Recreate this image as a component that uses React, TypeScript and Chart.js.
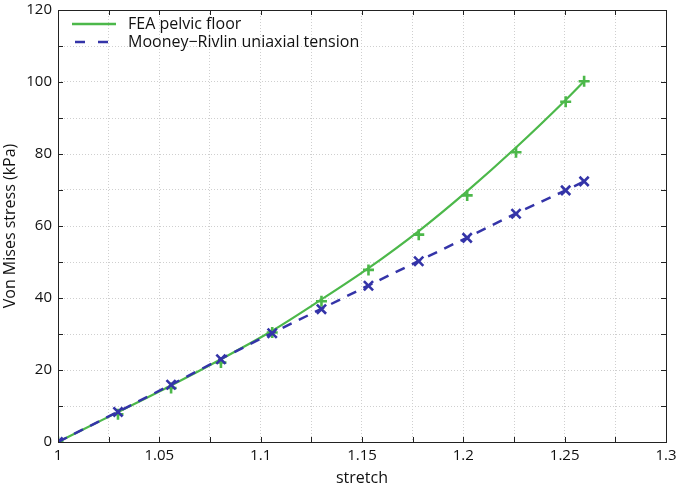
import React, { useEffect, useRef } from 'react';
import { Chart, registerables } from 'chart.js';

Chart.register(...registerables);

// stretch values of the sample points
const stretch = [1.0, 1.0296, 1.0558, 1.0804, 1.1057, 1.13, 1.1532, 1.178, 1.2019, 1.226, 1.2505, 1.2596];
// FEA pelvic floor: markers and the smooth fitted curve
const feaMarkers = [0, 7.7, 15.0, 22.1, 30.4, 39.1, 47.8, 57.6, 68.5, 80.5, 94.5, 100.2];
const feaCurve = [0, 8.3, 15.7, 23.0, 30.9, 39.6, 48.3, 58.6, 69.7, 81.8, 95.0, 100.2];
// Mooney-Rivlin uniaxial tension: markers and dashed curve
const mrMarkers = [0, 8.35, 15.9, 23.0, 30.2, 36.9, 43.4, 50.2, 56.7, 63.4, 69.9, 72.4];
const mrCurve = [0, 8.4, 15.9, 23.1, 30.3, 37.0, 43.5, 50.3, 56.8, 63.5, 69.9, 72.4];

const seriesLabels = ['FEA pelvic floor', 'Mooney\u2212Rivlin uniaxial tension'];
const xMin = 1, xMax = 1.3, xStep = 0.025;
const yMin = 0, yMax = 120, yStep = 10;

const GREEN = '#4cb84a';
const BLUE = '#3434a8';
const FONT = 'Open Sans';

const pts = (xs: number[], ys: number[]) => xs.map((x, i) => ({ x, y: ys[i] }));

const framePlugin = {
  id: 'frameTicks',
  afterDraw(chart: any) {
    const { ctx, chartArea: a, scales } = chart;
    ctx.save();
    ctx.strokeStyle = '#222';
    ctx.lineWidth = 1;
    ctx.setLineDash([]);
    ctx.strokeRect(Math.round(a.left) + 0.5, Math.round(a.top) + 0.5, Math.round(a.right - a.left), Math.round(a.bottom - a.top));
    const L = 5;
    scales.x.ticks.forEach((t: any) => {
      const px = Math.round(scales.x.getPixelForValue(t.value)) + 0.5;
      ctx.beginPath();
      ctx.moveTo(px, a.bottom); ctx.lineTo(px, a.bottom - L);
      ctx.moveTo(px, a.top); ctx.lineTo(px, a.top + L);
      ctx.stroke();
    });
    scales.y.ticks.forEach((t: any) => {
      const py = Math.round(scales.y.getPixelForValue(t.value)) + 0.5;
      ctx.beginPath();
      ctx.moveTo(a.left, py); ctx.lineTo(a.left + L, py);
      ctx.moveTo(a.right, py); ctx.lineTo(a.right - L, py);
      ctx.stroke();
    });
    // legend
    const lx = a.left + 14, lw = 44;
    const rows = [
      { label: chart.data.datasets[0].label, color: chart.data.datasets[0].borderColor, dash: [] as number[], y: 24 },
      { label: chart.data.datasets[2].label, color: chart.data.datasets[2].borderColor, dash: [10, 13], y: 42 },
    ];
    rows.forEach((r) => {
      ctx.beginPath();
      ctx.strokeStyle = r.color;
      ctx.lineWidth = 2.5;
      ctx.setLineDash(r.dash);
      ctx.lineDashOffset = r.dash.length ? -3 : 0;
      ctx.moveTo(lx, r.y); ctx.lineTo(lx + lw, r.y);
      ctx.stroke();
      ctx.setLineDash([]);
      ctx.fillStyle = '#111';
      ctx.font = `16px "${FONT}"`;
      ctx.textBaseline = 'middle';
      ctx.textAlign = 'left';
      ctx.fillText(r.label, lx + lw + 12, r.y);
    });
    ctx.restore();
  },
};

const zeroPad = (s: any) => { s.paddingLeft = 0; s.paddingRight = 0; s.paddingTop = 0; s.paddingBottom = 0; };

export default function App() {
  const ref = useRef<HTMLCanvasElement | null>(null);
  useEffect(() => {
    if (!ref.current) return;
    const chart = new Chart(ref.current, {
      type: 'scatter',
      data: {
        datasets: [
          {
            label: seriesLabels[0], data: pts(stretch, feaCurve), showLine: true,
            borderColor: GREEN, borderWidth: 2.2, pointRadius: 0, cubicInterpolationMode: 'monotone', order: 4,
          } as any,
          {
            label: seriesLabels[0] + ' points', data: pts(stretch, feaMarkers), showLine: false,
            borderColor: GREEN, backgroundColor: GREEN, pointStyle: 'cross', pointRadius: 5.5, pointBorderWidth: 2.6, order: 3,
          } as any,
          {
            label: seriesLabels[1], data: pts(stretch, mrCurve), showLine: true,
            borderColor: BLUE, borderWidth: 2.5, borderDash: [10, 8], pointRadius: 0, tension: 0, order: 2,
          } as any,
          {
            label: seriesLabels[1] + ' points', data: pts(stretch, mrMarkers), showLine: false,
            borderColor: BLUE, backgroundColor: BLUE, pointStyle: 'crossRot', pointRadius: 6.5, pointBorderWidth: 2.6, order: 1,
          } as any,
        ],
      },
      options: {
        responsive: false,
        animation: false,
        events: [],
        layout: { padding: { top: 10, right: 11, left: 0, bottom: 0 } },
        plugins: { legend: { display: false }, tooltip: { enabled: false } },
        scales: {
          x: {
            type: 'linear', min: xMin, max: xMax,
            ticks: {
              stepSize: xStep, autoSkip: false, maxRotation: 0, padding: 5, color: '#111',
              font: { family: FONT, size: 15 },
              callback: (v: any) => {
                const n = Number(v);
                return Math.abs(n * 20 - Math.round(n * 20)) < 1e-6 ? String(+n.toFixed(2)) : '';
              },
            },
            grid: { color: '#cfcfcf', lineWidth: 1, drawTicks: false },
            border: { display: false, dash: [1, 2] },
            title: { display: true, text: 'stretch', color: '#111', font: { family: FONT, size: 16 }, padding: { top: 0, bottom: 1 } },
            afterFit: (s: any) => { s.height = 47; zeroPad(s); },
          },
          y: {
            min: yMin, max: yMax,
            ticks: {
              stepSize: yStep, autoSkip: false, padding: 6, color: '#111',
              font: { family: FONT, size: 15 },
              callback: (v: any) => (Number(v) % 20 === 0 ? String(v) : ''),
            },
            grid: { color: '#cfcfcf', lineWidth: 1, drawTicks: false },
            border: { display: false, dash: [1, 2] },
            title: { display: true, text: 'Von Mises stress (kPa)', color: '#111', font: { family: FONT, size: 16 }, padding: { top: 1, bottom: 0 } },
            afterFit: (s: any) => { s.width = 58; zeroPad(s); },
          },
        },
      } as any,
      plugins: [framePlugin],
    });
    return () => chart.destroy();
  }, []);
  return (
    <div style={{ position: 'absolute', left: 0, top: 0, width: 677, height: 489, background: '#fff' }}>
      <canvas ref={ref} width={677} height={489} style={{ display: 'block' }} />
    </div>
  );
}
